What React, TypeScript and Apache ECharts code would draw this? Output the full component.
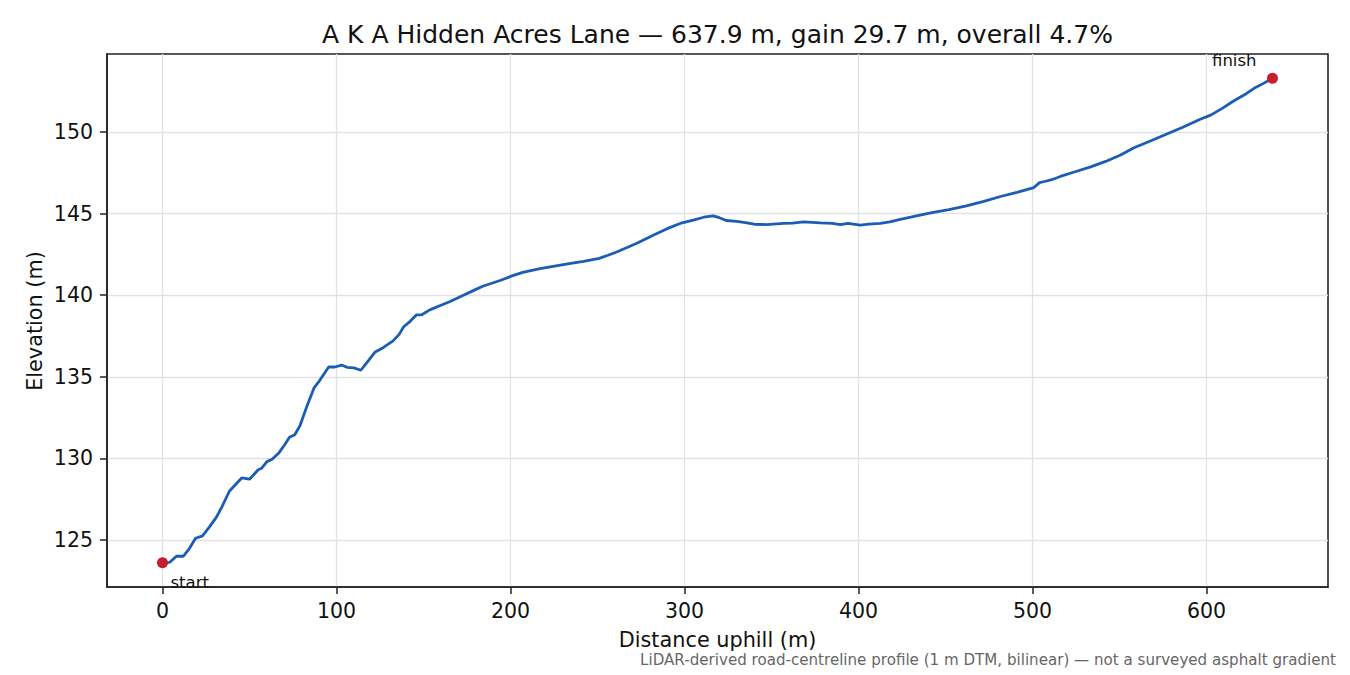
import React, { useEffect, useRef } from "react";
import * as echarts from "echarts";

const distance = [
  0, 4, 8, 12, 15, 19, 23, 27, 31, 34, 38.5, 42, 45.5, 50, 52, 55, 57, 60, 63, 67,
  70, 73, 76, 79, 83, 87, 90.5, 95.5, 99, 103, 106, 110, 114, 118, 122, 127, 132.5,
  136, 138.5, 142.3, 146, 149, 153.6, 160, 165, 172, 178, 184, 194, 200, 207, 217,
  232, 242, 251, 256, 261, 267, 272.6, 282, 290, 297.5, 305, 311, 316.5, 320, 324,
  330, 335, 340, 347, 357, 362, 368.5, 378, 385, 389.5, 394, 401, 406, 412.5, 418,
  424, 430, 436, 443, 452, 462, 472, 481.6, 491, 500.8, 504, 507, 511, 516, 524,
  533.4, 542, 550.6, 558, 567, 575.5, 586, 596.7, 602.4, 609, 615.8, 622, 627.3,
  633, 637.9,
];

const elevation = [
  123.6, 123.62, 124.0, 124.0, 124.4, 125.1, 125.25, 125.8, 126.4, 127.0, 128.0,
  128.4, 128.8, 128.72, 128.95, 129.3, 129.4, 129.8, 129.95, 130.35, 130.8, 131.3,
  131.45, 132.0, 133.2, 134.3, 134.8, 135.6, 135.6, 135.72, 135.58, 135.55, 135.4,
  135.95, 136.5, 136.8, 137.2, 137.6, 138.05, 138.4, 138.8, 138.8, 139.1, 139.38,
  139.6, 139.95, 140.25, 140.55, 140.9, 141.15, 141.4, 141.63, 141.9, 142.08,
  142.26, 142.45, 142.65, 142.92, 143.18, 143.67, 144.08, 144.4, 144.6, 144.78,
  144.86, 144.75, 144.58, 144.53, 144.45, 144.35, 144.33, 144.4, 144.42, 144.5,
  144.43, 144.4, 144.33, 144.4, 144.29, 144.36, 144.4, 144.5, 144.65, 144.78,
  144.92, 145.07, 145.25, 145.47, 145.75, 146.05, 146.3, 146.6, 146.9, 146.97,
  147.08, 147.28, 147.55, 147.87, 148.2, 148.59, 149.02, 149.42, 149.8, 150.28,
  150.8, 151.04, 151.45, 151.92, 152.3, 152.68, 153.0, 153.3,
];

const endpointNames = ["start", "finish"];
const xTicks = [0, 100, 200, 300, 400, 500, 600];
const yTicks = [125, 130, 135, 140, 145, 150];

const titleText = "A K A Hidden Acres Lane \u2014 637.9 m, gain 29.7 m, overall 4.7%";
const xName = "Distance uphill (m)";
const yName = "Elevation (m)";
const footnote =
  "LiDAR-derived road-centreline profile (1 m DTM, bilinear) \u2014 not a surveyed asphalt gradient";

const FONT = "DejaVu Sans";

export default function App() {
  const ref = useRef<HTMLDivElement>(null);

  useEffect(() => {
    if (!ref.current) return;
    const chart = echarts.init(ref.current, undefined, { renderer: "svg" });

    const xMin = distance[0];
    const xMax = distance[distance.length - 1];
    const xPad = (xMax - xMin) * 0.05;
    const yLo = Math.min(...elevation);
    const yHi = Math.max(...elevation);
    const yPad = (yHi - yLo) * 0.05;

    const lineData = distance.map((d, i) => [d, elevation[i]]);
    const last = distance.length - 1;

    const axisCommon = {
      axisLine: { show: true, onZero: false, lineStyle: { color: "#222", width: 1.6 } },
      splitLine: { show: true, lineStyle: { color: "#e2e2e2", width: 1.3 } },
    };

    const labelCommon = {
      show: true,
      position: "inside",
      verticalAlign: "middle",
      color: "#111",
      opacity: 1,
      fontFamily: FONT,
      fontSize: 16.5,
    };

    chart.setOption({
      animation: false,
      backgroundColor: "#ffffff",
      grid: {
        left: 107,
        top: 54,
        right: 22,
        bottom: 88,
        show: true,
        borderColor: "#222",
        borderWidth: 1.6,
        backgroundColor: "transparent",
        containLabel: false,
      },
      xAxis: {
        type: "value",
        min: xMin - xPad,
        max: xMax + xPad,
        ...axisCommon,
        axisTick: {
          show: true,
          inside: false,
          length: 7,
          lineStyle: { color: "#222", width: 1.5 },
          customValues: xTicks,
        },
        axisLabel: {
          customValues: xTicks,
          margin: 13,
          color: "#111",
          fontFamily: FONT,
          fontSize: 20.5,
          formatter: (v: number) => String(Math.round(v)),
        },
      },
      yAxis: {
        type: "value",
        min: yLo - yPad,
        max: yHi + yPad,
        ...axisCommon,
        axisTick: {
          show: true,
          inside: false,
          length: 7,
          lineStyle: { color: "#222", width: 1.5 },
          customValues: yTicks,
        },
        axisLabel: {
          customValues: yTicks,
          margin: 14,
          color: "#111",
          fontFamily: FONT,
          fontSize: 20.5,
          formatter: (v: number) => String(Math.round(v)),
        },
      },
      series: [
        {
          type: "line",
          data: lineData,
          showSymbol: false,
          symbol: "none",
          smooth: false,
          lineStyle: { color: "#1b5db5", width: 2.8 },
          z: 2,
        },
        {
          type: "scatter",
          symbol: "circle",
          symbolSize: 11,
          itemStyle: { color: "#c61f2b", opacity: 1 },
          emphasis: { disabled: true },
          z: 3,
          data: [
            {
              value: [distance[0], elevation[0]],
              name: endpointNames[0],
              label: {
                ...labelCommon,
                formatter: endpointNames[0],
                align: "left",
                offset: [8, 20],
              },
            },
            {
              value: [distance[last], elevation[last]],
              name: endpointNames[1],
              label: {
                ...labelCommon,
                formatter: endpointNames[1],
                align: "right",
                offset: [-16, -18],
              },
            },
          ],
        },
      ],
      graphic: [
        {
          type: "text",
          x: 717.5,
          y: 34,
          style: {
            text: titleText,
            fontFamily: FONT,
            fontSize: 25,
            fill: "#111",
            textAlign: "center",
            textVerticalAlign: "middle",
          },
        },
        {
          type: "text",
          x: 717.5,
          y: 640,
          style: {
            text: xName,
            fontFamily: FONT,
            fontSize: 20.8,
            fill: "#111",
            textAlign: "center",
            textVerticalAlign: "middle",
          },
        },
        {
          type: "text",
          x: 35,
          y: 321,
          rotation: Math.PI / 2,
          style: {
            text: yName,
            fontFamily: FONT,
            fontSize: 20.8,
            fill: "#111",
            textAlign: "center",
            textVerticalAlign: "middle",
          },
        },
        {
          type: "text",
          x: 1336,
          y: 660,
          style: {
            text: footnote,
            fontFamily: FONT,
            fontSize: 15.1,
            fill: "#666",
            textAlign: "right",
            textVerticalAlign: "middle",
          },
        },
      ],
    });

    return () => {
      chart.dispose();
    };
  }, []);

  return (
    <div
      ref={ref}
      style={{ position: "absolute", left: 0, top: 0, width: 1350, height: 675 }}
    />
  );
}
